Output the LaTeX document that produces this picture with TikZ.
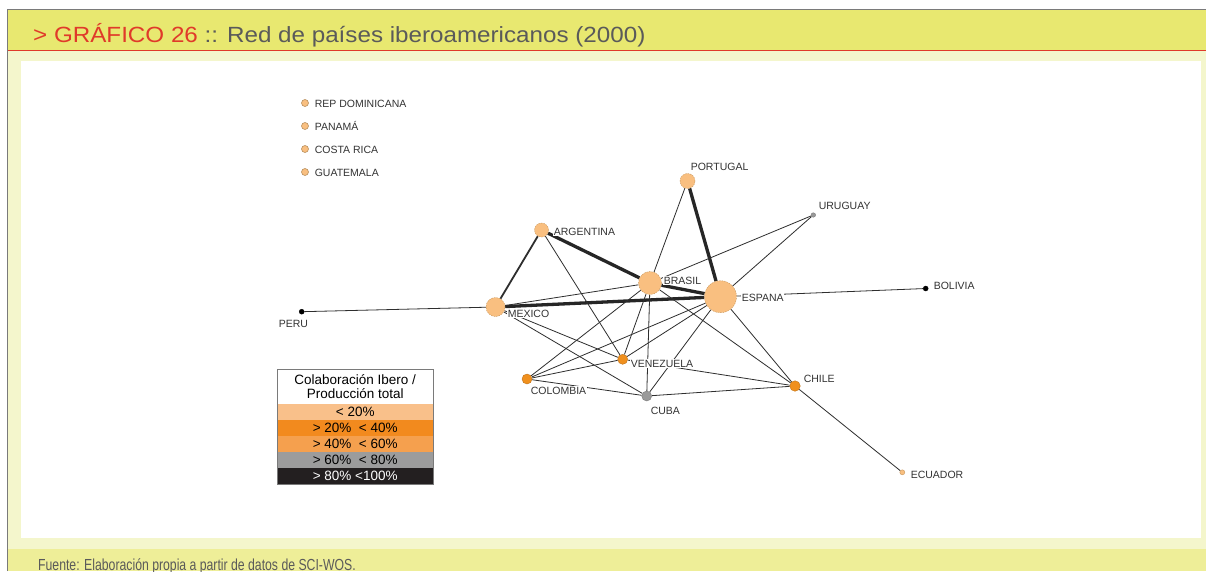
\documentclass[tikz,border=0pt]{standalone}
\usepackage{fontspec}
\setmainfont{Liberation Sans}
\definecolor{bandyellow}{HTML}{E8E870}
\definecolor{paleyellow}{HTML}{F4F6CC}
\definecolor{footyellow}{HTML}{EEEE98}
\definecolor{titlered}{HTML}{E03A2A}
\definecolor{titlegray}{HTML}{5A5A5A}
\definecolor{framegray}{HTML}{7A7A7A}
\definecolor{labgray}{HTML}{333333}
\definecolor{edgegray}{HTML}{2E2E2E}
\definecolor{peach}{HTML}{F9BF80}
\definecolor{peachline}{HTML}{C8965A}
\definecolor{orangenode}{HTML}{F0901E}
\definecolor{graynode}{HTML}{9A9A9A}
\definecolor{lightrow}{HTML}{F9C08A}
\definecolor{orangerow}{HTML}{F28A1E}
\definecolor{midrow}{HTML}{F5A04E}
\definecolor{grayrow}{HTML}{9C9C9C}
\definecolor{blackrow}{HTML}{231F20}
\pgfdeclarelayer{back}
\pgfdeclarelayer{edges}
\pgfsetlayers{back,edges,main}
\begin{document}
\begin{tikzpicture}[x=1pt,y=-1pt,
  lbl/.style={font=\fontsize{10.5}{12}\selectfont, text=labgray, fill=white, inner sep=0.6pt, anchor=base west},
  vert/.style={circle, inner sep=0pt, line width=0.4pt},
  bignode/.style={vert, fill=peach, draw=peachline, dash pattern=on 1.5pt off 1pt},
  orange/.style={vert, fill=orangenode, draw=orangenode!80!black},
  grayv/.style={vert, fill=graynode, draw=graynode!80!black},
  blackv/.style={vert, fill=black, draw=black},
  legdot/.style={vert, minimum size=7pt, fill=peach, draw=peachline!80!gray, line width=0.6pt},
  thinedge/.style={draw=edgegray, line width=0.8pt},
  midedge/.style={draw=edgegray, line width=1.8pt},
  thickedge/.style={draw=black!85, line width=3.3pt},
  legrow/.style={minimum width=156pt, minimum height=16pt, inner sep=0pt, font=\fontsize{13.5}{14}\selectfont}
]
\useasboundingbox (0,0) rectangle (1206,571);
\begin{pgfonlayer}{back}
  \fill[white] (0,0) rectangle (1206,571);
  \fill[bandyellow] (7.5,9.5) rectangle (1206,50.7);
  \fill[paleyellow] (7.5,50.7) rectangle (1206,549);
  \fill[footyellow] (7.5,549) rectangle (1206,571);
  \fill[white] (21,61) rectangle (1201,538);
  \draw[titlered, line width=1.2pt] (7.5,50.7) -- (1206,50.7);
  \draw[framegray, line width=1.4pt] (7.5,571) -- (7.5,9.5) -- (1206,9.5);
\end{pgfonlayer}

% title and footer
\node[anchor=base west, inner sep=0pt, font=\fontsize{22}{24}\selectfont] (title) at (33,42)
  {\scalebox{1.1}[1]{\textcolor{titlered}{> GRÁFICO 26} \textcolor{titlegray}{:: Red de países iberoamericanos (2000)}}};
\node[anchor=base west, inner sep=0pt, font=\fontsize{16}{18}\selectfont, text=titlegray] (source) at (38,570)
  {\scalebox{0.765}[1]{Fuente: Elaboración propia a partir de datos de SCI-WOS.}};

% isolated countries (legend list)
\node[legdot] (repdom) at (305,103) {};
\node[legdot] (panama) at (305,126) {};
\node[legdot] (costarica) at (305,149) {};
\node[legdot] (guatemala) at (305,172) {};
\node[lbl, fill=none] at (314,107) {REP DOMINICANA};
\node[lbl, fill=none] at (314,130) {PANAMÁ};
\node[lbl, fill=none] at (314,153) {COSTA RICA};
\node[lbl, fill=none] at (314,176) {GUATEMALA};

% network nodes
\node[bignode, minimum size=32pt] (esp) at (720.5,296.7) {};
\node[bignode, minimum size=23pt] (bra) at (650,283) {};
\node[bignode, minimum size=19pt] (mex) at (495.5,307) {};
\node[bignode, minimum size=14pt] (arg) at (541.5,230) {};
\node[bignode, minimum size=15pt] (por) at (687.5,181) {};
\node[orange, minimum size=10pt] (ven) at (622.7,359.3) {};
\node[orange, minimum size=10pt] (col) at (527,379) {};
\node[orange, minimum size=10.5pt] (chi) at (795,386) {};
\node[grayv, minimum size=10pt] (cub) at (646.7,396) {};
\node[grayv, minimum size=4.5pt] (uru) at (813.3,215) {};
\node[blackv, minimum size=5pt] (bol) at (925.7,288.5) {};
\node[blackv, minimum size=5pt] (per) at (301.7,311.7) {};
\node[vert, minimum size=5pt, fill=peach, draw=peachline] (ecu) at (902.3,472.3) {};

% edges
\begin{pgfonlayer}{edges}
  \draw[thickedge] (mex) -- (esp);
  \draw[thickedge] (arg) -- (bra);
  \draw[thickedge] (por) -- (esp);
  \draw[thickedge] (bra) -- (esp);
  \draw[midedge] (mex) -- (arg);
  \draw[thinedge] (per) -- (mex);
  \draw[thinedge] (mex) -- (bra);
  \draw[thinedge] (mex) -- (cub);
  \draw[thinedge] (mex) -- (ven);
  \draw[thinedge] (arg) -- (ven);
  \draw[thinedge] (por) -- (bra);
  \draw[thinedge] (uru) -- (bra);
  \draw[thinedge] (uru) -- (esp);
  \draw[thinedge] (esp) -- (bol);
  \draw[thinedge] (esp) -- (chi);
  \draw[thinedge] (esp) -- (cub);
  \draw[thinedge] (esp) -- (col);
  \draw[thinedge] (esp) -- (ven);
  \draw[thinedge] (bra) -- (ven);
  \draw[thinedge] (bra) -- (cub);
  \draw[thinedge] (bra) -- (col);
  \draw[thinedge] (bra) -- (chi);
  \draw[thinedge] (col) -- (ven);
  \draw[thinedge] (col) -- (cub);
  \draw[thinedge] (ven) -- (chi);
  \draw[thinedge] (cub) -- (chi);
  \draw[thinedge] (chi) -- (ecu);
\end{pgfonlayer}

% labels
\node[lbl] (lpor) at (690,170) {PORTUGAL};
\node[lbl] (luru) at (818,209) {URUGUAY};
\node[lbl] (larg) at (553,235) {ARGENTINA};
\node[lbl] (lbra) at (663,284) {BRASIL};
\node[lbl] (lesp) at (741,301) {ESPANA};
\node[lbl] (lbol) at (933,289) {BOLIVIA};
\node[lbl] (lper) at (278,327) {PERU};
\node[lbl] (lmex) at (507,317) {MEXICO};
\node[lbl] (lven) at (630,367) {VENEZUELA};
\node[lbl] (lcol) at (530,394) {COLOMBIA};
\node[lbl] (lcub) at (650,414) {CUBA};
\node[lbl] (lchi) at (803,382) {CHILE};
\node[lbl] (lecu) at (910,478) {ECUADOR};

% colour legend
\node[legrow, minimum height=35pt, fill=white, align=center, anchor=north west] (leghead) at (277,369)
  {Colaboración Ibero /\\[0.5pt]Producción total};
\node[legrow, fill=lightrow, anchor=north west] (row1) at (277,404) {< 20\%};
\node[legrow, fill=orangerow, anchor=north west] (row2) at (277,420) {> 20\%~~< 40\%};
\node[legrow, fill=midrow, anchor=north west] (row3) at (277,436) {> 40\%~~< 60\%};
\node[legrow, fill=grayrow, anchor=north west] (row4) at (277,452) {> 60\%~~< 80\%};
\node[legrow, fill=blackrow, text=white, anchor=north west] (row5) at (277,468) {> 80\% <100\%};
\draw[framegray, line width=0.8pt] (leghead.north west) rectangle (row5.south east);
\end{tikzpicture}
\end{document}
